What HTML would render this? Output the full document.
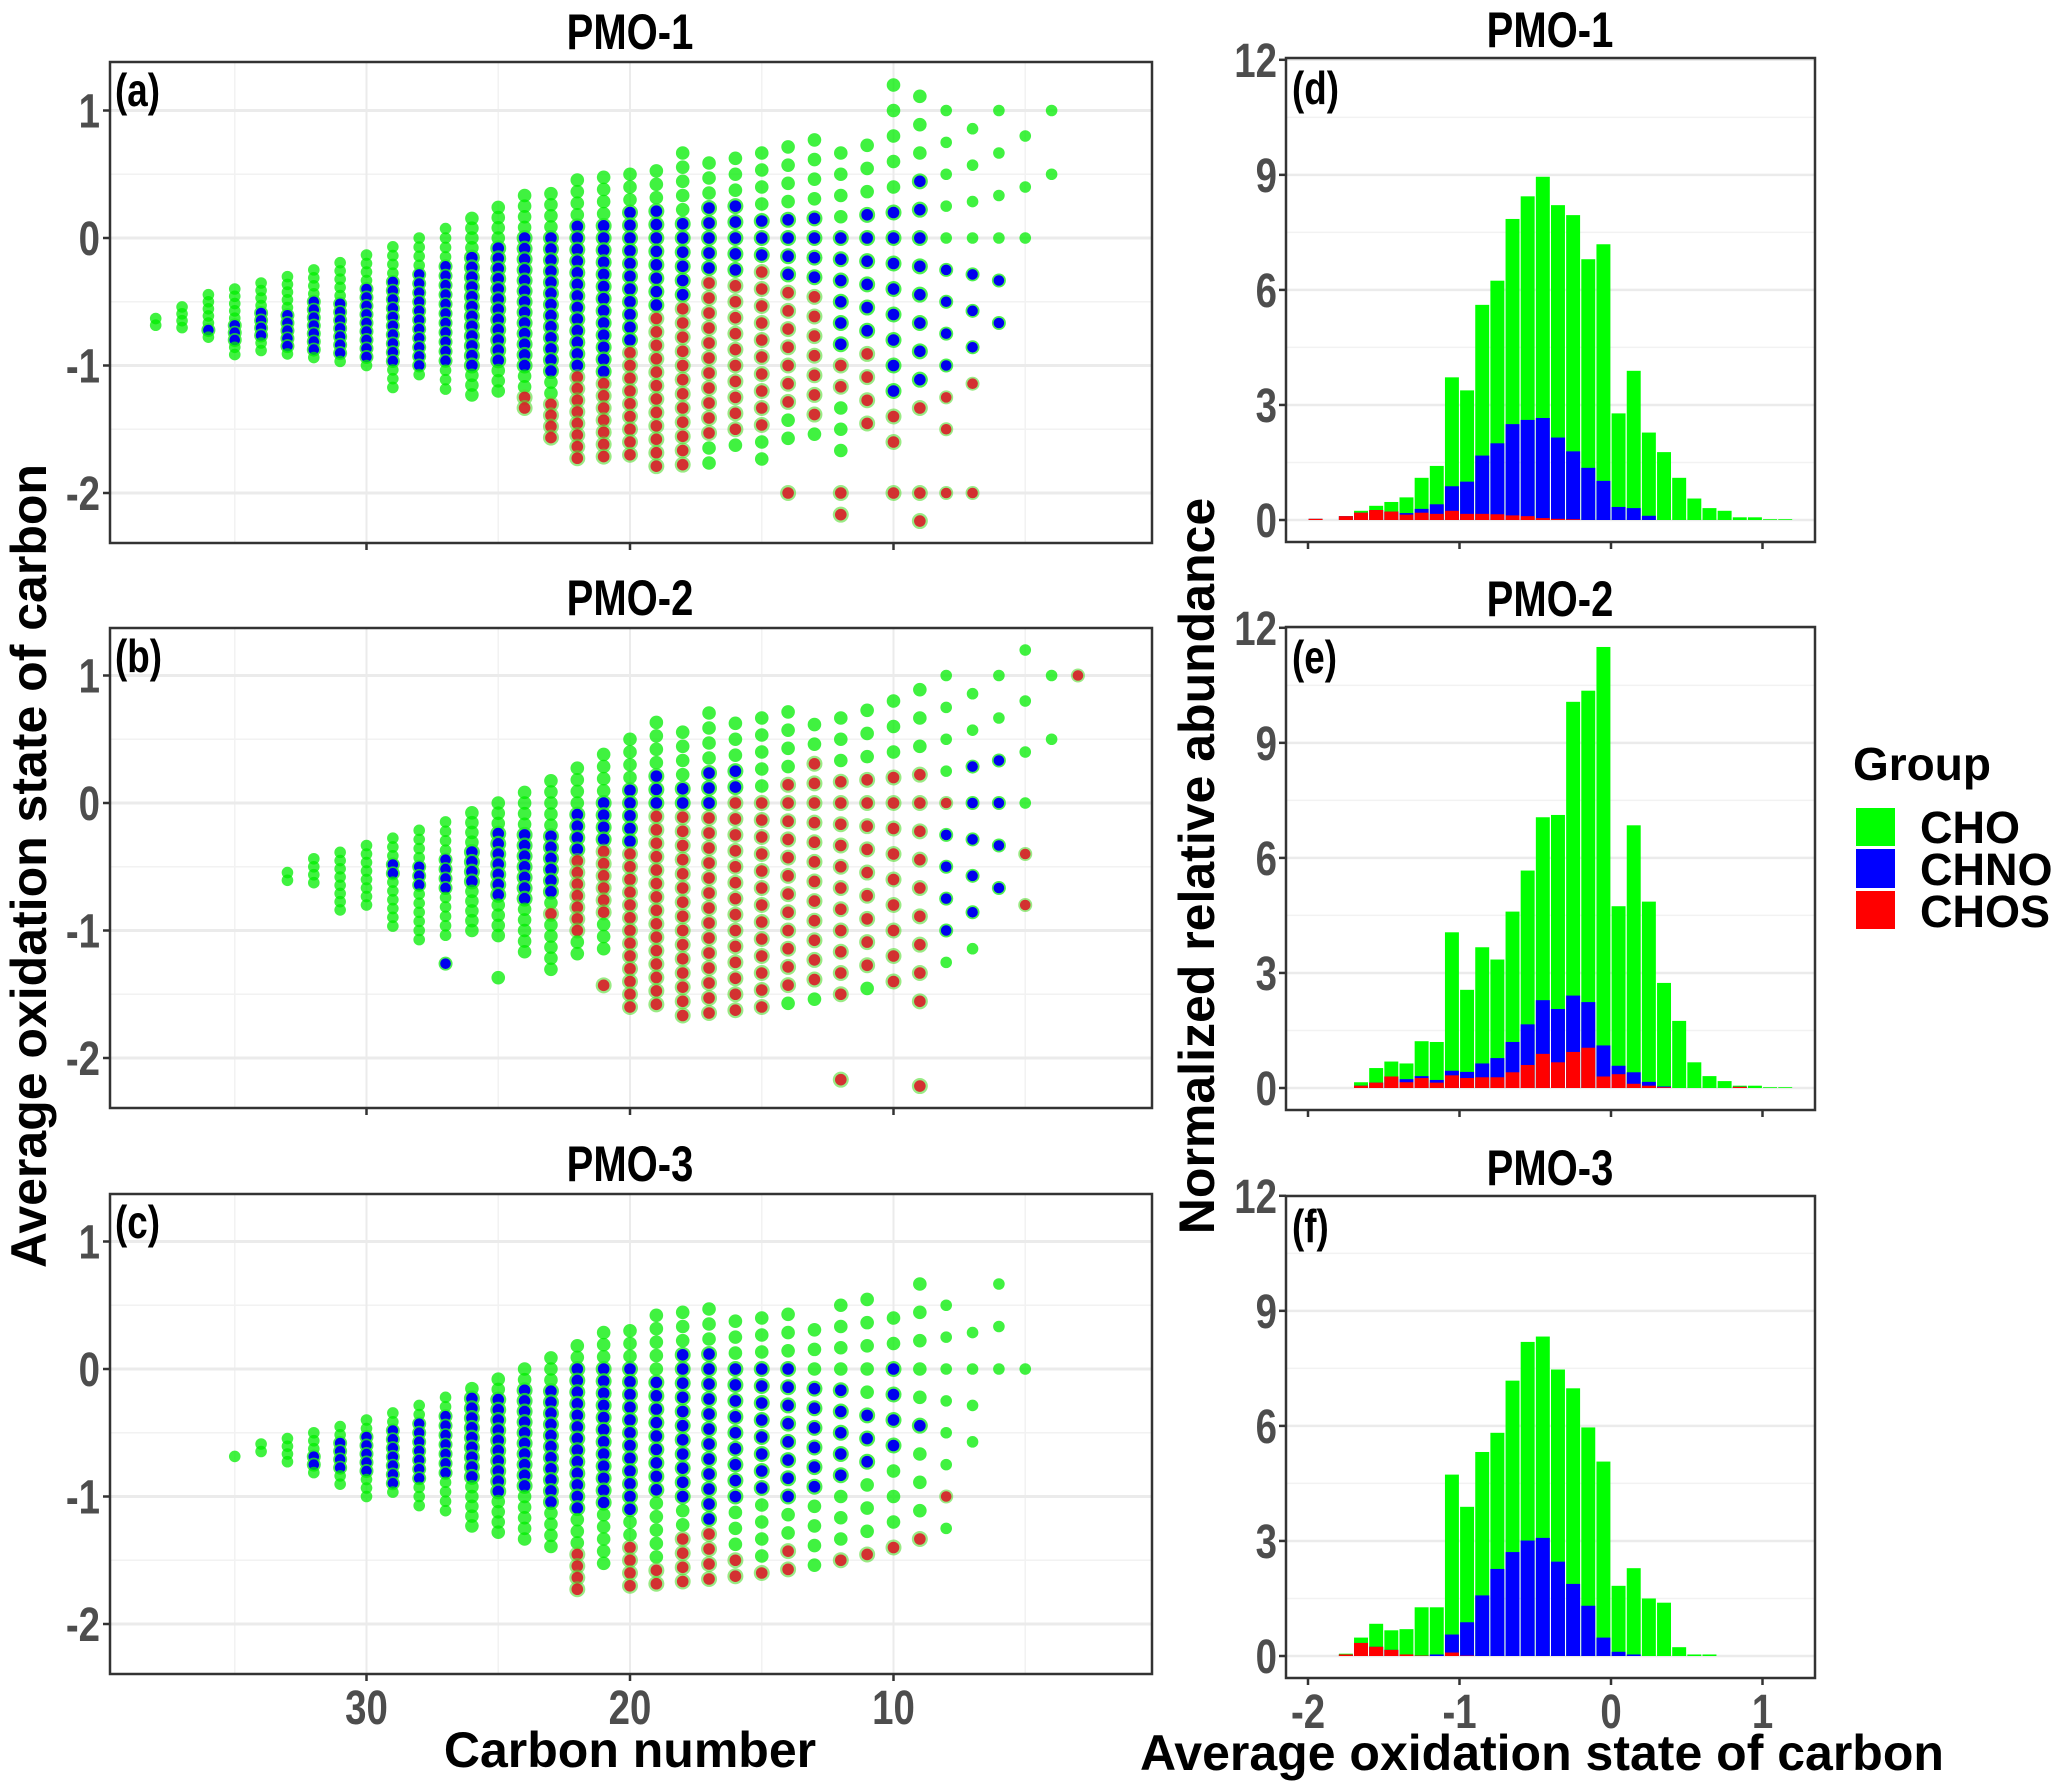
<!DOCTYPE html>
<html><head><meta charset="utf-8"><style>
html,body{margin:0;padding:0;background:#fff;}
svg{display:block;font-family:"Liberation Sans",Arial,sans-serif;}
</style></head><body>
<svg id="fig" width="2067" height="1792" viewBox="0 0 2067 1792" xmlns="http://www.w3.org/2000/svg">
<rect width="2067" height="1792" fill="#fff"/>
<g id="layer"></g>
<text x="46" y="866" transform="rotate(-90 46 866)" text-anchor="middle" font-size="50" font-weight="bold" fill="#000">Average oxidation state of carbon</text>
<text x="1214" y="866" transform="rotate(-90 1214 866)" text-anchor="middle" font-size="50" font-weight="bold" fill="#000">Normalized relative abundance</text>
<text x="630" y="1767" text-anchor="middle" font-size="50" font-weight="bold" fill="#000">Carbon number</text>
<text x="1542" y="1770" text-anchor="middle" font-size="50" font-weight="bold" fill="#000">Average oxidation state of carbon</text>
<g>
<text x="1853" y="780" font-size="46" font-weight="bold" fill="#000">Group</text>
<rect x="1856" y="808" width="39" height="38" fill="#00ff00"/>
<rect x="1856" y="849" width="39" height="39" fill="#0000ff"/>
<rect x="1856" y="891" width="39" height="38" fill="#ff0000"/>
<text x="1920" y="843" font-size="45" font-weight="bold" fill="#000">CHO</text>
<text x="1920" y="885" font-size="45" font-weight="bold" fill="#000">CHNO</text>
<text x="1920" y="927" font-size="45" font-weight="bold" fill="#000">CHOS</text>
</g>
</svg>
<script>
// ---------- histogram data (bins of 0.1, bin centres) ----------
const binsD = [-1.95,-1.85,-1.75,-1.65,-1.55,-1.45,-1.35,-1.25,-1.15,-1.05,-0.95,-0.85,-0.75,-0.65,-0.55,-0.45,-0.35,-0.25,-0.15,-0.05,0.05,0.15,0.25,0.35,0.45,0.55,0.65,0.75,0.85,0.95,1.05,1.15];
const totalD = [0.03,0,0.1,0.24,0.37,0.47,0.59,1.1,1.41,3.72,3.38,5.61,6.24,7.85,8.44,8.95,8.21,7.95,6.8,7.19,2.78,3.89,2.28,1.77,1.1,0.56,0.31,0.24,0.07,0.07,0.02,0.02];
const chnoTopD = [0.03,0,0.1,0.19,0.26,0.22,0.18,0.29,0.41,0.88,1.0,1.68,2.0,2.5,2.61,2.66,2.15,1.79,1.36,1.02,0.34,0.31,0.11,0,0,0,0,0,0,0,0,0];
const chosD = [0.03,0,0.1,0.19,0.26,0.22,0.14,0.19,0.16,0.24,0.16,0.16,0.15,0.12,0.1,0.05,0.03,0.02,0,0,0,0,0,0,0,0,0,0,0,0,0,0];

const binsE = [-1.65,-1.55,-1.45,-1.35,-1.25,-1.15,-1.05,-0.95,-0.85,-0.75,-0.65,-0.55,-0.45,-0.35,-0.25,-0.15,-0.05,0.05,0.15,0.25,0.35,0.45,0.55,0.65,0.75,0.85,0.95,1.05,1.15];
const totalE = [0.15,0.52,0.69,0.64,1.22,1.2,4.06,2.56,3.67,3.35,4.6,5.67,7.06,7.12,10.07,10.36,11.5,4.74,6.85,4.86,2.74,1.75,0.67,0.31,0.18,0.06,0.06,0.02,0.02];
const chnoTopE = [0.06,0.14,0.3,0.23,0.31,0.21,0.45,0.42,0.64,0.78,1.2,1.66,2.29,2.06,2.41,2.24,1.11,0.58,0.41,0.16,0.04,0,0,0,0,0.03,0,0,0];
const chosE = [0.06,0.14,0.3,0.15,0.26,0.14,0.33,0.26,0.28,0.28,0.41,0.6,0.89,0.67,0.94,1.05,0.3,0.36,0.11,0.06,0.02,0,0,0,0,0.03,0,0,0];

const binsF = [-1.75,-1.65,-1.55,-1.45,-1.35,-1.25,-1.15,-1.05,-0.95,-0.85,-0.75,-0.65,-0.55,-0.45,-0.35,-0.25,-0.15,-0.05,0.05,0.15,0.25,0.35,0.45,0.55,0.65];
const totalF = [0.06,0.48,0.84,0.67,0.7,1.27,1.27,4.73,3.89,5.32,5.82,7.18,8.19,8.33,7.47,6.98,5.96,5.07,1.83,2.29,1.5,1.39,0.23,0.04,0.04];
const chnoTopF = [0.04,0.34,0.24,0.16,0.04,0.01,0.04,0.56,0.88,1.58,2.27,2.71,3.01,3.08,2.46,1.88,1.31,0.48,0.11,0.04,0,0,0,0,0];
const chosF = [0.04,0.34,0.24,0.16,0.04,0.01,0,0.09,0.01,0,0,0,0,0,0,0,0,0,0,0,0,0,0,0,0];

const histYTicks = [0,3,6,9,12];
const histXTicks = [-2,-1,0,1];
const scatYTicks = [1,0,-1,-2];
const scatXTicks = [30,20,10];

// ---------- scatter data: [C, osMax, osMin, blueHi, blueLo, redHi, redLo] ----------
const colsA = [
[38,-0.63,-0.69,9,9,9,9],[37,-0.54,-0.72,9,9,9,9],[36,-0.45,-0.79,-0.7,-0.75,9,9],[35,-0.39,-0.93,-0.7,-0.78,9,9],
[34,-0.36,-0.88,-0.6,-0.8,9,9],[33,-0.3,-0.91,-0.6,-0.85,9,9],[32,-0.25,-0.94,-0.5,-0.9,9,9],[31,-0.19,-0.97,-0.5,-0.93,9,9],
[30,-0.12,-1.0,-0.4,-0.95,9,9],[29,-0.06,-1.18,-0.35,-0.98,9,9],[28,0.01,-1.09,-0.3,-1.0,9,9],[27,0.07,-1.17,-0.2,-1.0,9,9],
[26,0.15,-1.21,-0.1,-1.0,9,9],[25,0.24,-1.21,-0.05,-1.0,9,9],[24,0.33,-1.35,0,-1.05,-1.2,-1.35],[23,0.39,-1.59,0,-1.1,-1.25,-1.6],
[22,0.47,-1.72,0.1,-1.0,-1.1,-1.72],[21,0.48,-1.72,0.15,-1.1,-1.1,-1.72],[20,0.5,-1.7,0.25,-0.8,-0.6,-1.7],[19,0.54,-1.8,0.25,-0.6,-0.5,-1.8],
[18,0.66,-1.78,0.2,-0.5,-0.45,-1.78],[17,0.6,-1.75,0.25,-0.3,-0.3,-1.6],[16,0.63,-1.65,0.25,-0.25,-0.3,-1.6],[15,0.68,-1.74,0.15,-0.2,-0.25,-1.5],
[14,0.72,-1.59,0.15,-0.35,-0.3,-1.4],[13,0.78,-1.54,0.2,-0.35,-0.4,-1.4],[12,0.68,-1.68,0.1,-0.9,-0.55,-1.3],[11,0.74,-1.45,0.2,-0.8,-0.65,-1.45],
[10,1.2,-1.6,0.2,-1.2,-1.1,-1.6],[9,1.13,-1.33,0.45,-1.1,-1.2,-1.33],[8,1.0,-1.5,-0.25,-1.0,-1.2,-1.5],[7,0.86,-1.15,-0.3,-0.85,-1.1,-1.15],
[6,1.0,-0.67,-0.35,-0.67,9,9],[5,0.81,0,9,9,9,9],[4,1.0,0.5,9,9,9,9]];
const extraA = [[14,-2,'r'],[12,-2,'r'],[12,-2.17,'r'],[10,-2,'r'],[9,-2,'r'],[9,-2.22,'r'],[8,-2,'r'],[7,-2,'r']];

const colsB = [
[33,-0.53,-0.61,9,9,9,9],[32,-0.42,-0.63,9,9,9,9],[31,-0.38,-0.85,9,9,9,9],[30,-0.32,-0.81,9,9,9,9],
[29,-0.24,-0.98,-0.5,-0.6,9,9],[28,-0.18,-1.08,-0.5,-0.65,9,9],[27,-0.11,-1.05,-0.4,-0.65,9,9],[26,-0.04,-1.0,-0.35,-0.6,9,9],
[25,0,-1.03,-0.25,-0.7,9,9],[24,0.14,-1.17,-0.25,-0.75,9,9],[23,0.23,-1.3,-0.2,-0.75,-0.85,-0.9],[22,0.31,-1.19,-0.1,-0.4,-0.4,-1.0],
[21,0.39,-1.13,0,-0.3,-0.3,-0.9],[20,0.5,-1.6,0.1,-0.3,-0.3,-1.6],[19,0.63,-1.58,0.2,0,-0.1,-1.58],[18,0.59,-1.68,0.2,-0.05,-0.1,-1.68],
[17,0.72,-1.65,0.25,0,-0.1,-1.65],[16,0.65,-1.63,0.3,0.1,0,-1.63],[15,0.67,-1.6,9,9,0.1,-1.6],[14,0.72,-1.58,9,9,0.2,-1.5],
[13,0.62,-1.54,9,9,0.3,-1.45],[12,0.67,-1.5,9,9,0.2,-1.5],[11,0.73,-1.45,9,9,0.2,-1.3],[10,0.8,-1.4,9,9,0.2,-1.4],
[9,0.89,-1.57,-0.7,-0.8,0.25,-1.57],[8,1.0,-1.26,-0.05,-1.0,0.2,-0.9],[7,0.86,-1.15,0.3,-0.85,0.3,-0.6],[6,1.0,-0.67,0.35,-0.67,9,9],
[5,1.2,-0.81,9,9,-0.4,-0.81],[4,1.0,0.5,9,9,9,9]];
const extraB = [[27,-1.26,'b'],[25,-1.37,'g'],[21,-1.43,'r'],[12,-2.17,'r'],[9,-2.22,'r'],[3,1.0,'r']];

const colsC = [
[35,-0.69,-0.69,9,9,9,9],[34,-0.59,-0.65,9,9,9,9],[33,-0.54,-0.74,9,9,9,9],[32,-0.49,-0.82,-0.65,-0.75,9,9],
[31,-0.44,-0.9,-0.6,-0.78,9,9],[30,-0.37,-1.0,-0.5,-0.8,9,9],[29,-0.32,-0.97,-0.45,-0.9,9,9],[28,-0.27,-1.07,-0.4,-0.9,9,9],
[27,-0.2,-1.1,-0.35,-0.85,9,9],[26,-0.13,-1.22,-0.25,-0.9,9,9],[25,-0.05,-1.27,-0.2,-1.0,9,9],[24,0.02,-1.32,-0.15,-0.95,9,9],
[23,0.1,-1.39,-0.15,-1.05,9,9],[22,0.2,-1.73,0,-1.1,-1.45,-1.73],[21,0.28,-1.54,0,-1.05,9,9],[20,0.3,-1.69,0,-1.1,-1.4,-1.69],
[19,0.43,-1.67,-0.05,-1.0,-1.55,-1.67],[18,0.47,-1.66,0.1,-1.0,-1.3,-1.66],[17,0.47,-1.64,0.1,-1.2,-1.3,-1.64],[16,0.38,-1.62,0.1,-1.1,-1.5,-1.62],
[15,0.4,-1.6,0,-0.95,-1.6,-1.6],[14,0.43,-1.56,0,-1.0,-1.4,-1.56],[13,0.3,-1.54,-0.15,-0.95,9,9],[12,0.5,-1.49,-0.15,-0.85,-1.49,-1.49],
[11,0.55,-1.44,-0.35,-0.75,-1.44,-1.44],[10,0.42,-1.39,0,-0.6,-1.39,-1.39],[9,0.67,-1.32,-0.44,-0.46,-1.32,-1.32],[8,0.5,-1.24,9,9,-1.0,-1.0],
[7,0.28,-0.57,9,9,9,9],[6,0.67,0,9,9,9,9],[5,0,0,9,9,9,9]];
const extraC = [];

// ---------- helpers ----------
const NS = 'http://www.w3.org/2000/svg';
const layer = document.getElementById('layer');
function mk(tag, attrs, parent){
  const e = document.createElementNS(NS, tag);
  for (const k in attrs) e.setAttribute(k, attrs[k]);
  (parent||layer).appendChild(e);
  return e;
}
function txt(s, attrs, parent){ const t = mk('text', attrs, parent); t.textContent = s; return t; }
// condensed tall label: draw at (x,y) with horizontal squeeze
function ctxt(s, x, y, anchor, size, fill, parent){
  const t = txt(s, {x:0, y:0, 'text-anchor':anchor, 'font-size':size, 'font-weight':'bold', fill:fill,
    transform:'translate(' + x + ',' + y + ') scale(0.8,1)'}, parent);
  return t;
}

// ---------- scatter panels ----------
const SX0 = 110, SX1 = 1152;
function sx(c){ return 630 + (20 - c) * 26.35; }
function scatterPanel(cols, extra, top, bottom, y0, title, label, showX, key){
  const sy = os => y0 - os * 127.5;
  const g = mk('g', {});
  
  
  mk('rect', {x:SX0, y:top, width:SX1-SX0, height:bottom-top, fill:'#fff'}, g);
  for (const v of [1.5,0.5,-0.5,-1.5]) { const yy = sy(v); if (yy>top && yy<bottom) mk('line',{x1:SX0,x2:SX1,y1:yy,y2:yy,stroke:'#f2f2f2','stroke-width':1.5},g); }
  for (const c of [35,25,15,5]) mk('line',{x1:sx(c),x2:sx(c),y1:top,y2:bottom,stroke:'#f2f2f2','stroke-width':1.5},g);
  for (const v of scatYTicks) mk('line',{x1:SX0,x2:SX1,y1:sy(v),y2:sy(v),stroke:'#ebebeb','stroke-width':3},g);
  for (const c of scatXTicks) mk('line',{x1:sx(c),x2:sx(c),y1:top,y2:bottom,stroke:'#ebebeb','stroke-width':2},g);
  const pts = mk('g', {}, g);
  
  
  function dot(c, os, kind){
    const x = sx(c), y = sy(os);
    const big = (c >= 9 && c <= 26) ? 1 : 0;
    let d;
    if (kind === 'g') {
      d = mk('circle',{cx:x,cy:y,r:5.8+big,fill:'#00ee00','fill-opacity':0.75},pts);
    } else if (kind === 'b') {
      mk('circle',{cx:x,cy:y,r:7+big,fill:'#22ee22','fill-opacity':0.8},pts);
      d = mk('circle',{cx:x,cy:y,r:5.3+big*0.5,fill:'#0000ee'},pts);
    } else {
      mk('circle',{cx:x,cy:y,r:7+big,fill:'#55dd33','fill-opacity':0.6},pts);
      d = mk('circle',{cx:x,cy:y,r:5.3+big*0.5,fill:'#dd1122','fill-opacity':0.85},pts);
    }
    
    
  }
  for (const col of cols) {
    const [c, mx, mn, bh, bl, rh, rl] = col;
    const step = 2 / c;
    const kHi = Math.floor(mx / step + 0.3), kLo = Math.ceil(mn / step - 0.3);
    for (let k = kHi; k >= kLo; k--) {
      const os = k * step;
      let kind = 'g';
      if (rh < 5 && os <= rh + 0.02 && os >= rl - 0.02) kind = 'r';
      if (bh < 5 && os <= bh + 0.02 && os >= bl - 0.02) kind = 'b';
      dot(c, os, kind);
    }
  }
  for (const e of extra) dot(e[0], e[1], e[2]);
  mk('rect',{x:SX0, y:top, width:SX1-SX0, height:bottom-top, fill:'none', stroke:'#333', 'stroke-width':2.5}, g);
  for (const v of scatYTicks) {
    mk('line',{x1:SX0-7,x2:SX0,y1:sy(v),y2:sy(v),stroke:'#333','stroke-width':2.5},g);
    const t = ctxt(String(v), SX0-10, sy(v)+17, 'end', 48, '#4d4d4d', g);
    
    
  }
  for (const c of scatXTicks) {
    mk('line',{x1:sx(c),x2:sx(c),y1:bottom,y2:bottom+7,stroke:'#333','stroke-width':2.5},g);
    if (showX) {
      const t = ctxt(String(c), sx(c), bottom+50, 'middle', 48, '#4d4d4d', g);
      
      
    }
  }
  const tt = ctxt(title, 630, top-13, 'middle', 50, '#000', g);
  
  
  const tl = ctxt(label, SX0+5, top+44, 'start', 46, '#000', g);
  
  
}
scatterPanel(colsA, extraA, 62, 543, 238, 'PMO-1', '(a)', false, 'a');
scatterPanel(colsB, extraB, 628, 1108, 803, 'PMO-2', '(b)', false, 'b');
scatterPanel(colsC, extraC, 1194, 1674, 1369, 'PMO-3', '(c)', true, 'c');

// ---------- histogram panels ----------
const HX0 = 1286, HX1 = 1815;
function hx(v){ return 1611 + v * 151.5; }
function histPanel(bins, total, chnoTop, chos, top, bottom, y0, title, label, showX, key){
  const hy = v => y0 - v * 38.35;
  const g = mk('g', {});
  
  
  mk('rect', {x:HX0, y:top, width:HX1-HX0, height:bottom-top, fill:'#fff'}, g);
  for (const v of [1.5,4.5,7.5,10.5]) mk('line',{x1:HX0,x2:HX1,y1:hy(v),y2:hy(v),stroke:'#f2f2f2','stroke-width':1.5},g);
  for (const v of histYTicks) mk('line',{x1:HX0,x2:HX1,y1:hy(v),y2:hy(v),stroke:'#ebebeb','stroke-width':2.5},g);
  const bw = 15.15;
  for (let i = 0; i < bins.length; i++) {
    const x = hx(bins[i]) - bw/2 + 0.6, w = bw - 1.2;
    if (total[i] > 0) {
      const r = mk('rect',{x:x,y:hy(total[i]),width:w,height:hy(0)-hy(total[i]),fill:'#00ff00'},g);
      
      
    }
    if (chnoTop[i] > 0) {
      const r = mk('rect',{x:x,y:hy(chnoTop[i]),width:w,height:hy(0)-hy(chnoTop[i]),fill:'#0000ff'},g);
      
      
    }
    if (chos[i] > 0) {
      const r = mk('rect',{x:x,y:hy(chos[i]),width:w,height:hy(0)-hy(chos[i]),fill:'#ff0000'},g);
      
      
    }
  }
  mk('rect',{x:HX0, y:top, width:HX1-HX0, height:bottom-top, fill:'none', stroke:'#333', 'stroke-width':2.5}, g);
  for (const v of histYTicks) {
    mk('line',{x1:HX0-7,x2:HX0,y1:hy(v),y2:hy(v),stroke:'#333','stroke-width':2.5},g);
    const t = ctxt(String(v), HX0-9, hy(v)+17, 'end', 48, '#4d4d4d', g);
    
    
  }
  for (const v of histXTicks) {
    mk('line',{x1:hx(v),x2:hx(v),y1:bottom,y2:bottom+7,stroke:'#333','stroke-width':2.5},g);
    if (showX) {
      const t = ctxt(String(v), hx(v), bottom+50, 'middle', 48, '#4d4d4d', g);
      
      
    }
  }
  const tt = ctxt(title, 1550, top-11, 'middle', 50, '#000', g);
  
  
  const tl = ctxt(label, HX0+6, top+46, 'start', 46, '#000', g);
  
  
}
histPanel(binsD, totalD, chnoTopD, chosD, 58, 542, 520, 'PMO-1', '(d)', false, 'd');
histPanel(binsE, totalE, chnoTopE, chosE, 627, 1110, 1088, 'PMO-2', '(e)', false, 'e');
histPanel(binsF, totalF, chnoTopF, chosF, 1196, 1678, 1656, 'PMO-3', '(f)', true, 'f');
</script>
</body></html>
